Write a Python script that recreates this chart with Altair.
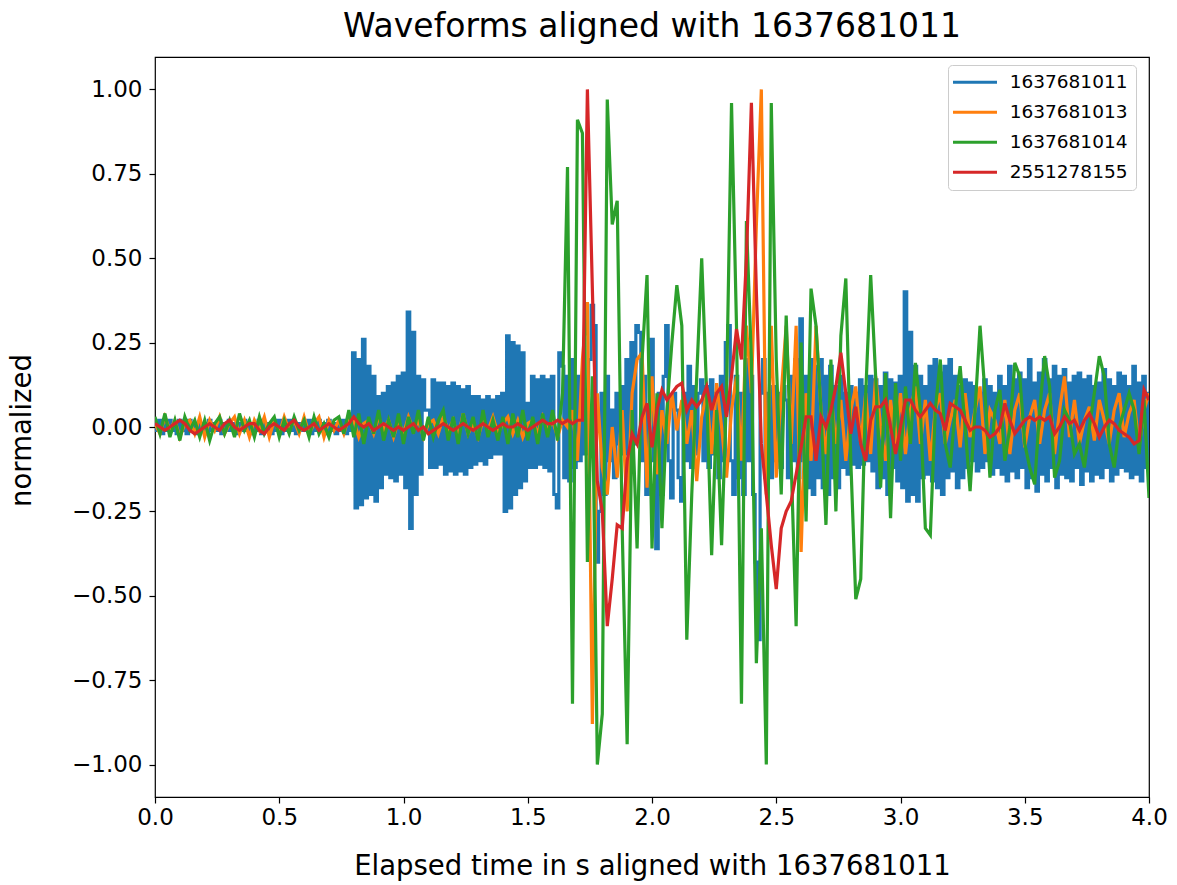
import altair as alt
import pandas as pd

SERIES = ["1637681011", "1637681013", "1637681014", "2551278155"]
COLORS = ["#1f77b4", "#ff7f0e", "#2ca02c", "#d62728"]
X_TICKS = [0.0, 0.5, 1.0, 1.5, 2.0, 2.5, 3.0, 3.5, 4.0]
Y_TICKS = [-1.0, -0.75, -0.5, -0.25, 0.0, 0.25, 0.5, 0.75, 1.0]

DT_BLUE = 0.01   # sample interval of 1637681011 (s)
DT = 0.02        # sample interval of the other traces (s)

blue = [
    0.01, -0.01, 0.02, -0.02, 0.01, -0.01, 0.02, -0.01, 0.01, -0.02,
    0.02, -0.01, 0.01, -0.02, 0.02, -0.01, 0.01, -0.02, 0.01, -0.01,
    0.01, -0.02, 0.02, -0.01, 0.01, -0.01, 0.02, -0.02, 0.01, -0.01,
    0.02, -0.01, 0.01, -0.02, 0.01, -0.01, 0.02, -0.01, 0.01, -0.02,
    0.01, -0.01, 0.02, -0.02, 0.01, -0.01, 0.01, -0.02, 0.02, -0.01,
    0.02, -0.02, 0.01, -0.01, 0.02, -0.01, 0.01, -0.02, 0.01, -0.01,
    0.01, -0.01, 0.02, -0.02, 0.01, -0.01, 0.02, -0.01, 0.01, -0.02,
    0.02, -0.01, 0.01, -0.02, 0.01, -0.01, 0.02, -0.02, 0.01, -0.01,
    0.22, -0.24, 0.20, -0.23, 0.26, -0.21, 0.18, -0.20, 0.15, -0.22,
    0.09, -0.18, 0.10, -0.14, 0.12, -0.15, 0.13, -0.16, 0.15, -0.14,
    0.16, -0.18, 0.34, -0.30, 0.28, -0.20, 0.15, -0.14, 0.14, 0.05,
    0.05, -0.12, 0.14, -0.12, 0.13, -0.11, 0.13, -0.14, 0.12, -0.13,
    0.13, -0.14, 0.12, -0.13, 0.11, -0.14, 0.12, -0.12, 0.09, -0.11,
    0.09, -0.10, 0.08, -0.11, 0.09, -0.09, 0.08, -0.08, 0.09, -0.08,
    0.10, -0.25, 0.27, -0.24, 0.25, -0.20, 0.24, -0.18, 0.22, -0.16,
    0.07, -0.12, 0.15, -0.12, 0.14, -0.11, 0.15, -0.12, 0.14, -0.13,
    0.15, -0.20, -0.24, 0.22, 0.18, -0.15, 0.15, -0.16, 0.20, -0.12,
    0.15, -0.10, 0.12, -0.08, 0.10, 0.20, 0.36, 0.30, -0.40, -0.25,
    0.10, -0.20, 0.15, -0.10, 0.05, -0.15, 0.10, -0.05, 0.12, -0.08,
    0.20, -0.10, 0.25, -0.05, 0.30, 0.28, -0.10, 0.15, -0.20, 0.05,
    0.26, -0.10, -0.36, 0.10, -0.20, 0.15, 0.30, -0.10, -0.21, 0.10,
    0.05, -0.15, -0.22, 0.10, -0.10, 0.18, -0.12, 0.12, -0.08, 0.10,
    0.14, -0.10, 0.12, -0.12, 0.14, -0.08, 0.10, -0.15, 0.15, -0.10,
    0.25, 0.30, -0.10, -0.20, 0.15, -0.15, 0.10, -0.20, 0.20, -0.10,
    0.15, -0.20, -0.40, -0.63, 0.10, 0.20, -0.15, 0.10, -0.15, 0.12,
    -0.10, 0.10, -0.12, 0.12, 0.08, -0.15, 0.15, -0.10, 0.20, -0.15,
    0.32, -0.10, 0.15, -0.18, 0.20, -0.20, 0.18, -0.15, 0.20, -0.18,
    0.15, -0.20, 0.18, -0.15, 0.12, -0.18, 0.15, -0.12, 0.10, -0.14,
    0.12, -0.11, 0.10, -0.12, 0.14, -0.11, 0.12, -0.10, 0.15, -0.13,
    0.14, -0.18, 0.12, -0.15, 0.16, -0.20, 0.14, -0.12, 0.13, -0.16,
    0.15, -0.18, 0.40, -0.22, 0.28, -0.20, 0.18, -0.22, 0.15, -0.15,
    0.12, -0.14, 0.18, -0.16, 0.20, -0.18, 0.16, -0.20, 0.18, -0.15,
    0.20, -0.13, 0.15, -0.18, 0.12, -0.15, 0.14, -0.12, 0.13, -0.10,
    0.12, -0.13, 0.10, -0.12, 0.14, -0.10, 0.12, -0.14, 0.10, -0.12,
    0.15, -0.14, 0.12, -0.16, 0.18, -0.13, 0.14, -0.15, 0.16, -0.12,
    0.14, -0.18, 0.20, -0.15, 0.13, -0.19, 0.16, -0.14, 0.20, -0.16,
    0.14, -0.12, 0.18, -0.18, 0.15, -0.14, 0.17, -0.15, 0.13, -0.16,
    0.15, -0.12, 0.16, -0.17, 0.14, -0.13, 0.15, -0.16, 0.12, -0.14,
    0.13, -0.15, 0.17, -0.12, 0.14, -0.16, 0.12, -0.14, 0.16, -0.12,
    0.15, -0.13, 0.12, -0.15, 0.18, -0.14, 0.13, -0.16, 0.15, -0.12,
    0.10,
]

orange = [
    0.01, -0.02, 0.03, -0.01, 0.02, -0.03, 0.01, 0.02, -0.02, 0.03,
    -0.03, 0.02, -0.01, 0.03, -0.02, 0.01, 0.03, -0.02, 0.02, -0.03,
    0.02, -0.01, 0.03, -0.03, 0.02, -0.02, 0.03, -0.01, 0.02, -0.02,
    0.03, -0.02, 0.01, 0.03, -0.03, 0.02, -0.01, 0.02, -0.02, 0.03,
    0.02, -0.03, 0.01, 0.02, -0.02, 0.03, -0.01, 0.02, -0.03, 0.02,
    -0.02, 0.03, -0.01, 0.02, -0.03, 0.01, 0.02, -0.02, 0.03, -0.01,
    0.02, -0.03, 0.04, -0.02, 0.01, -0.03, 0.02, -0.01, 0.03, -0.02,
    0.01, 0.03, -0.02, 0.02, -0.03, 0.01, 0.02, -0.02, 0.03, -0.01,
    0.02, -0.03, 0.02, 0.00, 0.05, -0.10, 0.20, 0.37, -0.88, 0.10,
    -0.12, -0.20, 0.00, -0.15, 0.05, -0.25, 0.10, 0.20, 0.22, -0.18,
    0.15, -0.14, 0.05, -0.05, 0.10, -0.01, 0.08, -0.05, 0.05, -0.16,
    0.03, 0.10, -0.08, 0.13, 0.00, -0.15, 0.05, 0.15, -0.10, 0.30,
    0.10, 0.60, 1.00, -0.20, 0.30, -0.15, 0.10, 0.30, -0.05, 0.30,
    -0.37, 0.10, -0.10, 0.30, 0.05, -0.08, 0.10, -0.05, 0.08, -0.10,
    0.05, 0.12, -0.05, 0.10, -0.08, 0.15, 0.00, -0.10, 0.08, -0.05,
    0.10, -0.08, 0.05, 0.12, -0.05, 0.08, -0.10, 0.05, 0.10, -0.05,
    0.02, 0.08, -0.06, 0.10, -0.03, 0.05, 0.12, -0.08, 0.05, 0.02,
    -0.05, 0.08, -0.08, 0.05, 0.10, -0.06, 0.03, 0.08, -0.05, 0.05,
    0.10, -0.08, 0.05, 0.15, -0.03, 0.08, -0.05, 0.02, 0.06, -0.04,
    0.08, 0.02, -0.05, 0.05, 0.10, -0.03, 0.04, 0.08, -0.06, 0.05,
    0.10,
]

green = [
    0.03, -0.02, 0.04, -0.03, 0.02, -0.04, 0.03, -0.01, 0.02, -0.03,
    0.02, -0.04, 0.01, 0.03, -0.02, 0.02, -0.03, 0.04, -0.01, 0.02,
    -0.03, 0.03, -0.02, 0.01, 0.03, -0.03, 0.02, -0.02, 0.03, -0.01,
    0.02, -0.03, 0.03, -0.02, 0.01, -0.03, 0.02, 0.03, -0.02, 0.05,
    -0.03, 0.04, -0.05, 0.03, -0.02, 0.05, -0.04, 0.02, -0.03, 0.04,
    -0.05, 0.03, -0.02, 0.05, -0.04, 0.03, -0.03, 0.02, 0.05, -0.04,
    0.03, -0.05, 0.04, -0.02, 0.03, -0.04, 0.05, -0.03, 0.02, -0.04,
    0.03, -0.05, 0.04, -0.03, 0.05, -0.04, 0.03, -0.05, 0.04, -0.03,
    0.05, -0.04, 0.10, 0.77, -0.82, 0.91, 0.87, -0.40, 0.15, -1.00,
    -0.85, 0.97, 0.60, 0.67, -0.30, -0.94, 0.05, -0.36, 0.20, 0.45,
    -0.36, 0.10, -0.30, 0.05, 0.25, 0.42, 0.30, -0.63, -0.20, 0.15,
    0.50, 0.10, -0.38, 0.05, -0.35, 0.10, 0.96, 0.30, -0.82, 0.61,
    0.20, -0.70, -0.30, -1.00, 0.96, 0.20, -0.20, 0.33, -0.10, -0.59,
    0.25, -0.28, 0.41, 0.30, 0.05, -0.29, 0.20, -0.25, 0.27, 0.44,
    -0.10, -0.51, -0.45, 0.10, 0.45, 0.15, -0.18, 0.16, -0.27, 0.13,
    -0.10, 0.12, -0.05, 0.19, 0.05, -0.30, -0.32, 0.05, 0.20, -0.05,
    -0.12, 0.05, 0.18, 0.00, -0.19, 0.05, 0.30, 0.10, -0.15, 0.05,
    0.11, -0.10, 0.00, 0.19, 0.15, -0.05, -0.12, -0.17, 0.05, 0.21,
    0.12, -0.15, -0.10, 0.05, 0.02, -0.08, -0.05, -0.12, 0.00, 0.10,
    0.21, 0.15, -0.05, -0.12, 0.00, 0.05, 0.10, 0.05, -0.08, 0.08,
    -0.21,
]

red = [
    0.01, 0.00, -0.01, 0.00, 0.01, 0.02, 0.01, -0.01, -0.02, -0.01,
    0.00, 0.01, 0.00, -0.01, 0.01, 0.02, 0.00, -0.01, 0.00, 0.01,
    0.01, -0.01, -0.02, 0.00, 0.01, 0.00, -0.01, 0.01, 0.02, 0.00,
    -0.01, 0.00, 0.01, -0.01, 0.00, 0.01, 0.00, -0.01, 0.00, 0.01,
    0.03, 0.01, 0.00, 0.01, -0.01, 0.00, 0.01, 0.00, -0.01, 0.00,
    -0.01, 0.00, 0.01, -0.01, 0.00, -0.02, -0.01, 0.00, 0.01, 0.00,
    -0.01, 0.00, 0.01, 0.00, -0.01, 0.00, 0.01, 0.00, -0.01, 0.00,
    0.01, 0.00, 0.00, 0.01, 0.00, -0.01, 0.00, 0.01, 0.02, 0.01,
    0.01, 0.02, 0.01, 0.02, 0.01, 0.02, 0.02, 1.00, 0.41, -0.16,
    -0.25, -0.59, -0.45, -0.29, -0.30, -0.10, -0.02, -0.05, 0.03, 0.07,
    -0.06, 0.05, 0.11, 0.08, 0.10, 0.12, 0.13, 0.05, 0.08, 0.06,
    0.08, 0.12, 0.05, 0.10, 0.12, 0.03, 0.15, 0.29, 0.20, 0.50,
    0.96, 0.40, -0.05, -0.20, -0.35, -0.48, -0.30, -0.25, -0.22, -0.14,
    -0.06, 0.03, 0.03, -0.10, 0.03, 0.00, 0.05, 0.12, 0.22, 0.10,
    -0.02, 0.06, -0.05, -0.10, 0.02, 0.06, 0.06, 0.08, 0.00, -0.08,
    0.00, 0.08, 0.08, 0.05, 0.03, 0.05, 0.07, 0.05, 0.04, -0.01,
    0.07, 0.06, 0.05, 0.02, -0.01, 0.00, 0.00, -0.01, -0.03, -0.02,
    0.00, 0.07, 0.02, -0.02, 0.00, 0.02, 0.03, 0.02, 0.03, 0.02,
    0.03, -0.02, 0.00, 0.03, 0.01, 0.02, -0.01, 0.02, 0.04, 0.01,
    -0.03, 0.00, 0.02, 0.01, -0.01, -0.02, -0.03, -0.05, -0.04, 0.11,
    0.08,
]

rows = []
for name, vals, dt in [(SERIES[0], blue, DT_BLUE), (SERIES[1], orange, DT),
                       (SERIES[2], green, DT), (SERIES[3], red, DT)]:
    for i, v in enumerate(vals):
        rows.append({"series": name, "t": round(i * dt, 4), "value": v})
df = pd.DataFrame(rows)

FONT = "DejaVu Sans"

x_enc = alt.X("t:Q", scale=alt.Scale(domain=[0, 4], nice=False, zero=False),
              axis=alt.Axis(values=X_TICKS, format=".1f", labelPadding=3,
                            labelFlush=False,
                            title="Elapsed time in s aligned with 1637681011",
                            titleY=69, titleBaseline="middle"))
y_enc = alt.Y("value:Q", scale=alt.Scale(domain=[-1.096, 1.096], nice=False, zero=False),
              axis=alt.Axis(values=Y_TICKS, format=".2f", labelPadding=7,
                            labelFlush=False,
                            title="normalized", titleX=-133, titleY=373, titleAngle=270,
                            titleBaseline="middle", titleAlign="center"))
legend = alt.Legend(title=None, orient="none", legendX=793, legendY=8,
                    symbolType="M-4.4,0H4.4", symbolStrokeWidth=3.2, symbolSize=100,
                    symbolOffset=9.75,
                    labelFontSize=18.5, labelFont=FONT, labelColor="black",
                    fillColor="white", strokeColor="#cccccc", cornerRadius=4,
                    padding=8, rowPadding=11, labelOffset=25.5)
c_enc = alt.Color("series:N", sort=SERIES,
                  scale=alt.Scale(domain=SERIES, range=COLORS), legend=legend)

base = alt.Chart(df)
blue_layer = base.transform_filter(alt.datum.series == SERIES[0]).mark_line(
    strokeWidth=3.2, clip=True, interpolate="step"
).encode(x=x_enc, y=y_enc, color=c_enc, order=alt.Order("t:Q"))
other_layer = base.transform_filter(alt.datum.series != SERIES[0]).mark_line(
    strokeWidth=3.2, clip=True
).encode(x=x_enc, y=y_enc, color=c_enc, order=alt.Order("t:Q"))

chart = alt.layer(blue_layer, other_layer).properties(
    width=994, height=740,
    title=alt.TitleParams("Waveforms aligned with 1637681011", fontSize=33, font=FONT,
                          fontWeight="normal", color="black", anchor="middle",
                          offset=13),
    autosize=alt.AutoSizeParams(type="none"),
    padding={"left": 155, "top": 57, "right": 28, "bottom": 88},
    background="white",
).configure_view(
    stroke="black", strokeWidth=1.2
).configure_axis(
    grid=False, domain=False, tickColor="black", tickSize=6, tickWidth=1.2,
    labelFont=FONT, labelFontSize=23, labelColor="black",
    titleFont=FONT, titleFontSize=27.5, titleFontWeight="normal", titleColor="black",
)

chart.save("out.html", embed_options={"renderer": "svg", "actions": False})
